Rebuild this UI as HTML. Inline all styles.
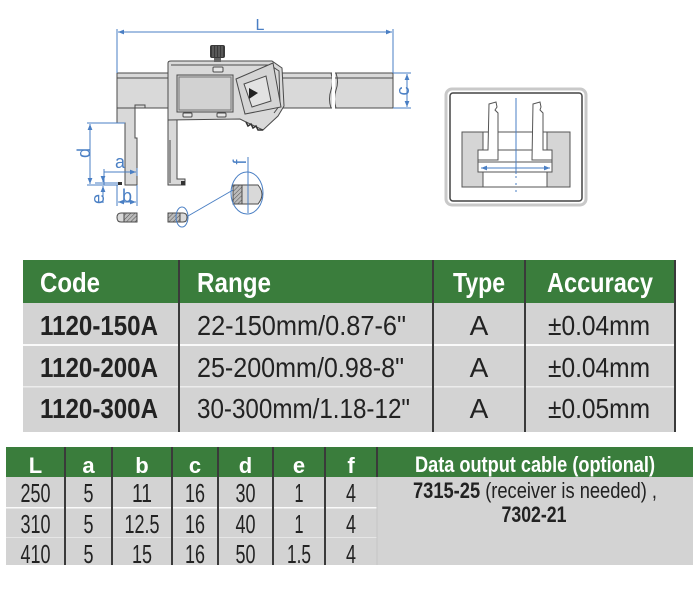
<!DOCTYPE html>
<html><head><meta charset="utf-8"><style>
html,body{margin:0;padding:0;background:#fff;}
svg{display:block;}
text{font-family:"Liberation Sans",Arial,sans-serif;}
</style></head><body>
<svg width="700" height="591" viewBox="0 0 700 591" xmlns="http://www.w3.org/2000/svg">
<defs>
<marker id="ar" viewBox="0 0 10 10" refX="10" refY="5" markerWidth="6" markerHeight="6" orient="auto-start-reverse" markerUnits="userSpaceOnUse">
<path d="M0,1 L10,5 L0,9 z" fill="#4a7fc4"/>
</marker>
<pattern id="hatch" width="3" height="3" patternUnits="userSpaceOnUse" patternTransform="rotate(45)">
<rect width="3" height="3" fill="#bbb"/>
<line x1="0" y1="0" x2="0" y2="3" stroke="#555" stroke-width="1"/>
</pattern>
</defs>

<!-- ===== Caliper drawing ===== -->
<g stroke="#4a4a4a" stroke-width="1" fill="#d9d9d9">
<rect x="117" y="73" width="276" height="35"/>
<line x1="117" y1="78" x2="393" y2="78"/>
<path d="M117,73 L117,123 L125,123 L125,185 L137,185 L137,138 L135,138 L135,108 L117,108 Z"/>
<line x1="135" y1="108" x2="145" y2="108"/>
<rect x="135" y="105" width="10" height="3" fill="#d9d9d9"/>
<path d="M168,118 L168,185 L185,185 L185,179 L177,179 L177,118 Z"/>
<line x1="170" y1="140" x2="170" y2="183"/>
<path d="M168,63 Q168,61 171,61 L272,61 L282,68 L284,106 L278,116 L263,130 L246,122 L240,119 L168,120 Z"/>
<path d="M171,65 L270,65 L279,71 L280,105 L274,113" fill="none"/>
<rect x="177" y="75" width="56" height="37" fill="#d2d2d2"/>
<rect x="179" y="77" width="52" height="33" fill="none" stroke="#777"/>
<rect x="213" y="67" width="10" height="5" rx="1" fill="#e6e6e6"/>
<rect x="183" y="113" width="9" height="4" rx="1" fill="#e6e6e6"/>
<rect x="217" y="113" width="9" height="4" rx="1" fill="#e6e6e6"/>
<polygon points="236,79 273,63 281,107 245,114" fill="#d4d4d4"/>
<polygon points="244,84 266,76 271,101 252,107" fill="#e2e2e2"/>
<path d="M246,122 L248,126 L251,124 L253,128 L256,126 L258,130 L263,130" fill="none" stroke="#333" stroke-width="1.5"/>
</g>
<polygon points="249,88 249,99 258,93" fill="#222"/>
<rect x="214" y="57" width="7" height="5" fill="#666"/>
<rect x="210" y="45" width="15" height="13" rx="2" fill="#3a3a3a"/>
<g stroke="#888" stroke-width="0.8"><line x1="213" y1="46" x2="213" y2="57"/><line x1="216" y1="46" x2="216" y2="57"/><line x1="219" y1="46" x2="219" y2="57"/><line x1="222" y1="46" x2="222" y2="57"/></g>
<path d="M331,73 Q334,82 331,90 Q328,99 331,108" fill="none" stroke="#4a4a4a"/>
<path d="M336,73 Q339,82 336,90 Q333,99 336,108" fill="none" stroke="#4a4a4a"/>
<rect x="332" y="72" width="3" height="37" fill="#fff"/>
<rect x="118" y="182" width="4" height="3" fill="#333"/>
<rect x="181" y="181" width="4" height="4" fill="#333"/>

<g stroke="#4a4a4a" stroke-width="1">
<path d="M124,213 L137,213 L137,222 L124,222 Z" fill="url(#hatch)"/>
<path d="M124,213 L121,213 Q117,213 117,217.5 Q117,222 121,222 L124,222 Z" fill="#d9d9d9"/>
<path d="M168,213 L180,213 L180,222 L168,222 Z" fill="url(#hatch)"/>
<path d="M180,213 L183,213 Q187,213 187,217.5 Q187,222 183,222 L180,222 Z" fill="#d9d9d9"/>
<path d="M233,185 L242,185 L242,204 L233,204 Z" fill="url(#hatch)"/>
<path d="M242,185 L258,185 Q262,190 262,194.5 Q262,199 258,204 L242,204 Z" fill="#d9d9d9"/>
</g>

<g stroke="#4a7fc4" stroke-width="1" fill="none">
<line x1="117" y1="29" x2="117" y2="73"/>
<line x1="393" y1="29" x2="393" y2="73"/>
<line x1="118" y1="32" x2="392" y2="32" marker-start="url(#ar)" marker-end="url(#ar)"/>
<line x1="393" y1="73" x2="411" y2="73"/>
<line x1="393" y1="108" x2="411" y2="108"/>
<line x1="407" y1="74" x2="407" y2="107" marker-start="url(#ar)" marker-end="url(#ar)"/>
<line x1="87" y1="123" x2="125" y2="123"/>
<line x1="87" y1="185" x2="118" y2="185"/>
<line x1="90" y1="124" x2="90" y2="184" marker-start="url(#ar)" marker-end="url(#ar)"/>
<line x1="104" y1="169" x2="104" y2="185"/>
<line x1="104" y1="172" x2="136" y2="172" marker-end="url(#ar)"/>
<line x1="137" y1="168" x2="137" y2="176"/>
<line x1="95" y1="183" x2="118" y2="183"/>
<line x1="103" y1="178" x2="103" y2="182" marker-end="url(#ar)"/>
<line x1="103" y1="203" x2="103" y2="186" marker-end="url(#ar)"/>
<line x1="117" y1="185" x2="117" y2="206"/>
<line x1="137" y1="185" x2="137" y2="206"/>
<line x1="118" y1="202" x2="136" y2="202" marker-start="url(#ar)" marker-end="url(#ar)"/>
<line x1="248" y1="157" x2="248" y2="213"/>
<ellipse cx="247" cy="193" rx="16" ry="21"/>
<ellipse cx="182" cy="217" rx="6" ry="10"/>
<line x1="188" y1="216" x2="233" y2="190"/>
</g>
<g fill="#4a7fc4" font-size="18">
<text x="260" y="30" text-anchor="middle" font-size="16">L</text>
<text transform="translate(409,91) rotate(-90)" text-anchor="middle">c</text>
<text transform="translate(90,153) rotate(-90)" text-anchor="middle">d</text>
<text x="120" y="168" text-anchor="middle">a</text>
<text transform="translate(104,199) rotate(-90)" text-anchor="middle">e</text>
<text x="127" y="202" text-anchor="middle">b</text>
<text transform="translate(246,162) rotate(-90)" text-anchor="middle">f</text>
</g>

<!-- ===== right figure ===== -->
<rect x="446" y="89" width="140" height="116" rx="6" fill="#fff" stroke="#c9c9c9" stroke-width="3"/>
<rect x="450" y="93" width="132" height="108" rx="3" fill="#fff" stroke="#444" stroke-width="1.5"/>
<g stroke="#555" stroke-width="1">
<rect x="462" y="132" width="21" height="55" fill="#d5d5d5"/>
<rect x="547" y="132" width="23" height="55" fill="#d5d5d5"/>
<line x1="462" y1="132" x2="570" y2="132"/>
<line x1="462" y1="187" x2="570" y2="187"/>
<rect x="478" y="150" width="74" height="22" fill="#fff"/>
<line x1="478" y1="162" x2="552" y2="162"/>
<path d="M489,104 L496,102 L497,107 L495,110 L498,113 L498,160 L478,160 L478,150 L488,150 Z" fill="#fff"/>
<path d="M533,104 L540,102 L541,107 L540,110 L543,113 L543,150 L552,150 L552,160 L532,160 Z" fill="#fff"/>
</g>
<g stroke="#4a7fc4" stroke-width="1" fill="none">
<line x1="516" y1="98" x2="516" y2="174"/>
<line x1="516" y1="176" x2="516" y2="192" stroke-dasharray="2,5"/>
<line x1="481" y1="168" x2="550" y2="168" marker-start="url(#ar)" marker-end="url(#ar)"/>
</g>

<!-- ===== main table ===== -->
<rect x="23" y="260" width="652" height="43" fill="#3a7d3c"/>
<rect x="23" y="303" width="652" height="129" fill="#d3d3d3"/>
<rect x="23" y="344" width="652" height="2" fill="#fafafa"/>
<rect x="23" y="386" width="652" height="1.5" fill="#ececec"/>
<g stroke="#3a3a3a" stroke-width="2">
<line x1="179" y1="260" x2="179" y2="432"/>
<line x1="433" y1="260" x2="433" y2="432"/>
<line x1="525" y1="260" x2="525" y2="432"/>
<line x1="675" y1="260" x2="675" y2="432"/>
</g>
<g fill="#fff" font-weight="bold" font-size="28">
<text x="40" y="292" textLength="60" lengthAdjust="spacingAndGlyphs">Code</text>
<text x="197" y="292" textLength="74" lengthAdjust="spacingAndGlyphs">Range</text>
<text x="453" y="292" textLength="52" lengthAdjust="spacingAndGlyphs">Type</text>
<text x="547" y="292" textLength="106" lengthAdjust="spacingAndGlyphs">Accuracy</text>
</g>
<g fill="#222" font-size="28">
<text x="40" y="335" font-weight="bold" textLength="118" lengthAdjust="spacingAndGlyphs">1120-150A</text>
<text x="40" y="377" font-weight="bold" textLength="118" lengthAdjust="spacingAndGlyphs">1120-200A</text>
<text x="40" y="418" font-weight="bold" textLength="118" lengthAdjust="spacingAndGlyphs">1120-300A</text>
<text x="197" y="335" textLength="209" lengthAdjust="spacingAndGlyphs">22-150mm/0.87-6"</text>
<text x="197" y="377" textLength="207" lengthAdjust="spacingAndGlyphs">25-200mm/0.98-8"</text>
<text x="197" y="418" textLength="213" lengthAdjust="spacingAndGlyphs">30-300mm/1.18-12"</text>
<text x="479" y="335" text-anchor="middle">A</text>
<text x="479" y="377" text-anchor="middle">A</text>
<text x="479" y="418" text-anchor="middle">A</text>
<text x="548" y="335" textLength="102" lengthAdjust="spacingAndGlyphs">±0.04mm</text>
<text x="548" y="377" textLength="102" lengthAdjust="spacingAndGlyphs">±0.04mm</text>
<text x="548" y="418" textLength="102" lengthAdjust="spacingAndGlyphs">±0.05mm</text>
</g>

<!-- ===== small table ===== -->
<rect x="6" y="447" width="687" height="30" fill="#3a7d3c"/>
<rect x="6" y="477" width="687" height="88" fill="#d3d3d3"/>
<rect x="6" y="507" width="371" height="1.5" fill="#fafafa"/>
<rect x="6" y="537" width="371" height="1" fill="#e6e6e6"/>
<g stroke="#3a3a3a" stroke-width="2">
<line x1="65" y1="447" x2="65" y2="565"/>
<line x1="112" y1="447" x2="112" y2="565"/>
<line x1="172" y1="447" x2="172" y2="565"/>
<line x1="218" y1="447" x2="218" y2="565"/>
<line x1="273" y1="447" x2="273" y2="565"/>
<line x1="325" y1="447" x2="325" y2="565"/>
<line x1="377" y1="447" x2="377" y2="477"/>
</g>
<line x1="377" y1="477" x2="377" y2="565" stroke="#c4c4c4" stroke-width="1"/>
<g fill="#fff" font-weight="bold" font-size="22" text-anchor="middle">
<text x="35.5" y="473">L</text>
<text x="88.5" y="473">a</text>
<text x="142" y="473">b</text>
<text x="195" y="473">c</text>
<text x="245.5" y="473">d</text>
<text x="299" y="473">e</text>
<text x="351" y="473">f</text>
</g>
<g fill="#222" font-size="26" text-anchor="middle">
<text x="35.5" y="502" textLength="30" lengthAdjust="spacingAndGlyphs">250</text>
<text x="88.5" y="502" textLength="10" lengthAdjust="spacingAndGlyphs">5</text>
<text x="142" y="502" textLength="20" lengthAdjust="spacingAndGlyphs">11</text>
<text x="195" y="502" textLength="20" lengthAdjust="spacingAndGlyphs">16</text>
<text x="245.5" y="502" textLength="20" lengthAdjust="spacingAndGlyphs">30</text>
<text x="299" y="502" textLength="9" lengthAdjust="spacingAndGlyphs">1</text>
<text x="351" y="502" textLength="10" lengthAdjust="spacingAndGlyphs">4</text>

<text x="35.5" y="533" textLength="30" lengthAdjust="spacingAndGlyphs">310</text>
<text x="88.5" y="533" textLength="10" lengthAdjust="spacingAndGlyphs">5</text>
<text x="142" y="533" textLength="35" lengthAdjust="spacingAndGlyphs">12.5</text>
<text x="195" y="533" textLength="20" lengthAdjust="spacingAndGlyphs">16</text>
<text x="245.5" y="533" textLength="20" lengthAdjust="spacingAndGlyphs">40</text>
<text x="299" y="533" textLength="9" lengthAdjust="spacingAndGlyphs">1</text>
<text x="351" y="533" textLength="10" lengthAdjust="spacingAndGlyphs">4</text>

<text x="35.5" y="563" textLength="30" lengthAdjust="spacingAndGlyphs">410</text>
<text x="88.5" y="563" textLength="10" lengthAdjust="spacingAndGlyphs">5</text>
<text x="142" y="563" textLength="20" lengthAdjust="spacingAndGlyphs">15</text>
<text x="195" y="563" textLength="20" lengthAdjust="spacingAndGlyphs">16</text>
<text x="245.5" y="563" textLength="20" lengthAdjust="spacingAndGlyphs">50</text>
<text x="299" y="563" textLength="24" lengthAdjust="spacingAndGlyphs">1.5</text>
<text x="351" y="563" textLength="10" lengthAdjust="spacingAndGlyphs">4</text>
</g>
<text x="535" y="472" fill="#fff" font-weight="bold" font-size="22" text-anchor="middle" textLength="240" lengthAdjust="spacingAndGlyphs">Data output cable (optional)</text>
<text x="413" y="498" fill="#222" font-size="22" textLength="244" lengthAdjust="spacingAndGlyphs"><tspan font-weight="bold">7315-25</tspan> (receiver is needed) ,</text>
<text x="534" y="522" fill="#222" font-size="22" font-weight="bold" text-anchor="middle" textLength="65" lengthAdjust="spacingAndGlyphs">7302-21</text>
</svg>
</body></html>
